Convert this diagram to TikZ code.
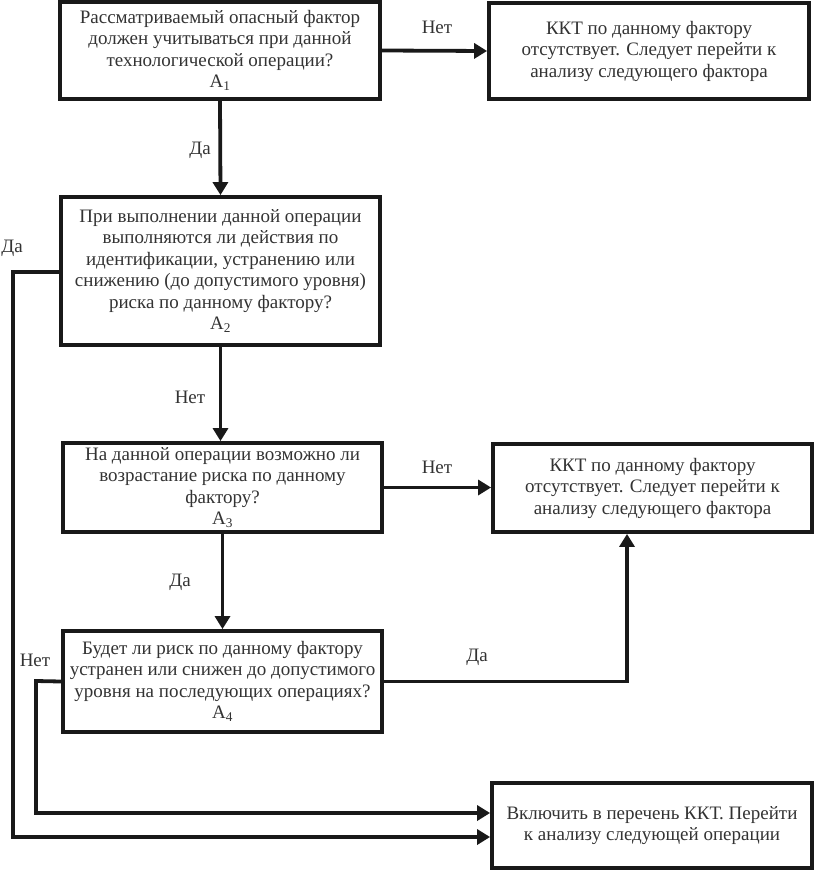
\documentclass[tikz,border=0pt]{standalone}
\usepackage{fontspec}
\setmainfont{Liberation Serif}
\usetikzlibrary{arrows.meta}
\begin{document}
\begin{tikzpicture}[x=1pt,y=-1pt,
  box/.style={draw=black!90, line width=3.8pt, fill=white, inner sep=0pt, align=center,
    text=black!80, font=\fontsize{19}{21.5}\selectfont},
  conn/.style={draw=black!90, line width=3.8pt},
  arr/.style={conn, -{Triangle[length=13pt,width=15pt]}},
  lbl/.style={text=black!80, font=\fontsize{19}{21.5}\selectfont, inner sep=0pt}]
\useasboundingbox (0,0) rectangle (814,872);

\node[box, minimum width=320pt, minimum height=97pt] (A1) at (220,50.5)
  {Рассматриваемый опасный фактор\\должен учитываться при данной\\технологической операции?\\A\textsubscript{1}};
\node[box, minimum width=320pt, minimum height=96pt] (K1) at (649,51)
  {ККТ по данному фактору\\отсутствует. Следует перейти к\\анализу следующего фактора};
\node[box, minimum width=319pt, minimum height=148pt] (A2) at (220.5,271)
  {При выполнении данной операции\\выполняются ли действия по\\идентификации, устранению или\\снижению (до допустимого уровня)\\риска по данному фактору?\\A\textsubscript{2}};
\node[box, minimum width=319pt, minimum height=89pt] (A3) at (222.5,487.5)
  {На данной операции возможно ли\\возрастание риска по данному\\фактору?\\A\textsubscript{3}};
\node[box, minimum width=319pt, minimum height=88pt] (K2) at (652.5,488)
  {ККТ по данному фактору\\отсутствует. Следует перейти к\\анализу следующего фактора};
\node[box, minimum width=319pt, minimum height=101pt] (A4) at (222.5,681.5)
  {Будет ли риск по данному фактору\\устранен или снижен до допустимого\\уровня на последующих операциях?\\A\textsubscript{4}};
\node[box, minimum width=320pt, minimum height=85pt] (K3) at (652,825.5)
  {Включить в перечень ККТ. Перейти\\к анализу следующей операции};

\coordinate (c1) at (13,272);
\coordinate (c2) at (36,681);
\coordinate (c3) at (627,681);

\draw[arr] (A1.east) -- (K1.west);
\draw[arr] (A1.south) -- (A2.north);
\draw[arr] (A2.south) -- (A2.south |- A3.north);
\draw[arr] (A3.east) -- (A3.east -| K2.west);
\draw[arr] (A3.south) -- (A3.south |- A4.north);
\draw[arr] (A4.east) -| (c3 |- K2.south);
\draw[arr] (A4.west) -- (c2) |- ([yshift=12.5pt]K3.west);
\draw[arr] (A2.west |- c1) -- (c1) |- ([yshift=-11.5pt]K3.west);

\node[lbl] (l1) at (437,27) {Нет};
\node[lbl] (l2) at (200,150) {Да};
\node[lbl] (l3) at (12,248) {Да};
\node[lbl] (l4) at (190,397) {Нет};
\node[lbl] (l5) at (437,467) {Нет};
\node[lbl] (l6) at (180,582) {Да};
\node[lbl] (l7) at (35,660) {Нет};
\node[lbl] (l8) at (477,657) {Да};
\end{tikzpicture}
\end{document}
